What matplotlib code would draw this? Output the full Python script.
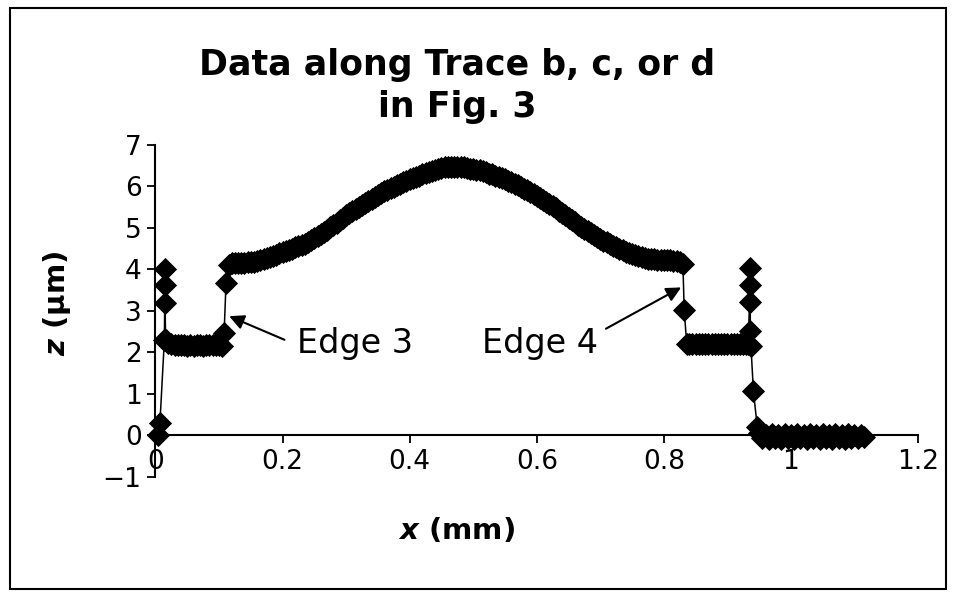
import matplotlib
matplotlib.use('Agg')
import matplotlib.pyplot as plt
from matplotlib.patches import Rectangle

# profile along the trace
x_start = [0.004, 0.007, 0.014, 0.015, 0.015, 0.015, 0.016]
z_start = [0.00, 0.30, 2.30, 4.00, 3.63, 3.20, 2.30]

x_low1 = [0.020, 0.025, 0.030, 0.035, 0.040, 0.045, 0.050, 0.055, 0.060,
          0.065, 0.070, 0.075, 0.080, 0.085, 0.090, 0.095, 0.100, 0.104]
z_low1 = [2.24, 2.20, 2.18, 2.17, 2.17, 2.17, 2.16, 2.17, 2.16,
          2.17, 2.17, 2.16, 2.17, 2.17, 2.17, 2.18, 2.18, 2.16]

x_edge3 = [0.108, 0.111, 0.115]
z_edge3 = [2.46, 3.67, 4.10]

x_top = [0.120, 0.125, 0.130, 0.135, 0.140, 0.145, 0.150, 0.155, 0.160, 0.165,
         0.170, 0.175, 0.180, 0.185, 0.190, 0.195, 0.200, 0.205, 0.210, 0.215,
         0.220, 0.225, 0.230, 0.235, 0.240, 0.245, 0.250, 0.255, 0.260, 0.265,
         0.270, 0.275, 0.280, 0.285, 0.290, 0.295, 0.300, 0.305, 0.310, 0.315,
         0.320, 0.325, 0.330, 0.335, 0.340, 0.345, 0.350, 0.355, 0.360, 0.365,
         0.370, 0.375, 0.380, 0.385, 0.390, 0.395, 0.400, 0.405, 0.410, 0.415,
         0.420, 0.425, 0.430, 0.435, 0.440, 0.445, 0.450, 0.455, 0.460, 0.465,
         0.470, 0.475, 0.480, 0.485, 0.490, 0.495, 0.500, 0.505, 0.510, 0.515,
         0.520, 0.525, 0.530, 0.535, 0.540, 0.545, 0.550, 0.555, 0.560, 0.565,
         0.570, 0.575, 0.580, 0.585, 0.590, 0.595, 0.600, 0.605, 0.610, 0.615,
         0.620, 0.625, 0.630, 0.635, 0.640, 0.645, 0.650, 0.655, 0.660, 0.665,
         0.670, 0.675, 0.680, 0.685, 0.690, 0.695, 0.700, 0.705, 0.710, 0.715,
         0.720, 0.725, 0.730, 0.735, 0.740, 0.745, 0.750, 0.755, 0.760, 0.765,
         0.770, 0.775, 0.780, 0.785, 0.790, 0.795, 0.800, 0.805, 0.810, 0.815,
         0.820, 0.825, 0.830]
z_top = [4.15, 4.15, 4.15, 4.15, 4.16, 4.17, 4.18, 4.19, 4.21, 4.23,
         4.25, 4.27, 4.30, 4.33, 4.36, 4.39, 4.42, 4.45, 4.48, 4.50,
         4.53, 4.56, 4.59, 4.62, 4.66, 4.70, 4.75, 4.80, 4.85, 4.90,
         4.96, 5.02, 5.08, 5.13, 5.19, 5.24, 5.30, 5.35, 5.41, 5.46,
         5.51, 5.56, 5.61, 5.65, 5.70, 5.75, 5.79, 5.84, 5.88, 5.92,
         5.96, 5.99, 6.03, 6.06, 6.10, 6.13, 6.17, 6.20, 6.23, 6.26,
         6.29, 6.32, 6.35, 6.37, 6.40, 6.42, 6.44, 6.46, 6.47, 6.48,
         6.48, 6.48, 6.47, 6.46, 6.45, 6.43, 6.42, 6.40, 6.39, 6.36,
         6.34, 6.31, 6.29, 6.26, 6.23, 6.20, 6.17, 6.13, 6.10, 6.06,
         6.03, 5.99, 5.95, 5.91, 5.87, 5.82, 5.78, 5.73, 5.68, 5.63,
         5.58, 5.52, 5.47, 5.41, 5.36, 5.30, 5.25, 5.19, 5.14, 5.08,
         5.03, 4.98, 4.93, 4.88, 4.83, 4.78, 4.74, 4.69, 4.65, 4.61,
         4.57, 4.53, 4.50, 4.46, 4.43, 4.40, 4.37, 4.34, 4.32, 4.30,
         4.28, 4.26, 4.25, 4.24, 4.23, 4.22, 4.22, 4.22, 4.22, 4.21,
         4.21, 4.19, 4.12]

x_edge4 = [0.832]
z_edge4 = [3.02]

x_low2 = [0.836, 0.840, 0.845, 0.850, 0.855, 0.860, 0.865, 0.870, 0.875, 0.880,
          0.885, 0.890, 0.895, 0.900, 0.905, 0.910, 0.915, 0.920, 0.925, 0.930, 0.933]
z_low2 = [2.21, 2.20, 2.20, 2.20, 2.21, 2.20, 2.20, 2.20, 2.21, 2.20,
          2.20, 2.20, 2.21, 2.20, 2.20, 2.20, 2.21, 2.20, 2.20, 2.20, 2.20]

x_spike = [0.936, 0.936, 0.936, 0.936, 0.937, 0.941, 0.947]
z_spike = [4.03, 3.63, 3.22, 2.52, 2.16, 1.06, 0.21]

x_base = [0.950, 0.955, 0.960, 0.965, 0.970, 0.975, 0.980, 0.985, 0.990, 0.995,
          1.000, 1.005, 1.010, 1.015, 1.020, 1.025, 1.030, 1.035, 1.040, 1.045,
          1.050, 1.055, 1.060, 1.065, 1.070, 1.075, 1.080, 1.085, 1.090, 1.095,
          1.100, 1.105, 1.110, 1.115]
z_base = [0.05, -0.05, 0.02, -0.08, 0.03, -0.06, 0.02, -0.08, 0.03, -0.07,
          0.02, -0.08, 0.03, -0.06, 0.02, -0.08, 0.03, -0.07, 0.02, -0.08,
          0.03, -0.06, 0.02, -0.08, 0.03, -0.07, 0.02, -0.08, 0.03, -0.06,
          0.02, -0.07, 0.01, -0.03]

xs = x_start + x_low1 + x_edge3 + x_top + x_edge4 + x_low2 + x_spike + x_base
zs = z_start + z_low1 + z_edge3 + z_top + z_edge4 + z_low2 + z_spike + z_base

x_ticks = [0, 0.2, 0.4, 0.6, 0.8, 1, 1.2]
x_tick_labels = ['0', '0.2', '0.4', '0.6', '0.8', '1', '1.2']
z_ticks = [-1, 0, 1, 2, 3, 4, 5, 6, 7]

plt.rcParams['font.family'] = 'DejaVu Sans'
plt.rcParams['mathtext.fontset'] = 'dejavusans'

fig = plt.figure(figsize=(9.55, 5.93), dpi=100)
ax = fig.add_axes([0.1628, 0.1956, 0.7985, 0.56])

ax.plot(xs, zs, 'k-', lw=1.1, marker='D', ms=10.8, mew=0.6, mfc='k', mec='k',
        clip_on=False, zorder=3)

ax.set_xlim(0, 1.2)
ax.set_ylim(-1, 7)
ax.spines['top'].set_visible(False)
ax.spines['right'].set_visible(False)
ax.spines['bottom'].set_position(('data', 0))
ax.spines['left'].set_linewidth(1.5)
ax.spines['bottom'].set_linewidth(1.5)
ax.set_xticks(x_ticks)
ax.set_xticklabels(x_tick_labels)
ax.set_yticks(z_ticks)
ax.tick_params(direction='out', length=6, width=1.3, labelsize=19, pad=4)

# annotations
ax.annotate('', xy=(0.112, 2.90), xytext=(0.207, 2.28),
            arrowprops=dict(arrowstyle='-|>', color='k', lw=1.5, mutation_scale=22))
ax.text(0.2228, 1.99, 'Edge 3', fontsize=24, ha='left', va='baseline')
ax.annotate('', xy=(0.831, 3.60), xytext=(0.705, 2.54),
            arrowprops=dict(arrowstyle='-|>', color='k', lw=1.5, mutation_scale=22))
ax.text(0.514, 1.99, 'Edge 4', fontsize=24, ha='left', va='baseline')

fig.text(0.4785, 0.855, 'Data along Trace b, c, or d\nin Fig. 3', ha='center', va='center',
         fontsize=25, fontweight='bold', linespacing=1.3)
fig.text(0.4785, 1 - 530 / 593, r'$\mathbfit{x}$ (mm)', ha='center', va='center',
         fontsize=21, fontweight='bold')
fig.text(57 / 955, 1 - 303 / 593, r'$\mathbfit{z}$ (μm)', ha='center', va='center',
         fontsize=21, fontweight='bold', rotation=90)

fig.patches.append(Rectangle((10 / 955, 1 - 589 / 593), 936 / 955, 581 / 593,
                             transform=fig.transFigure, fill=False, ec='k', lw=1.5))

fig.savefig('out.png', dpi=100)
